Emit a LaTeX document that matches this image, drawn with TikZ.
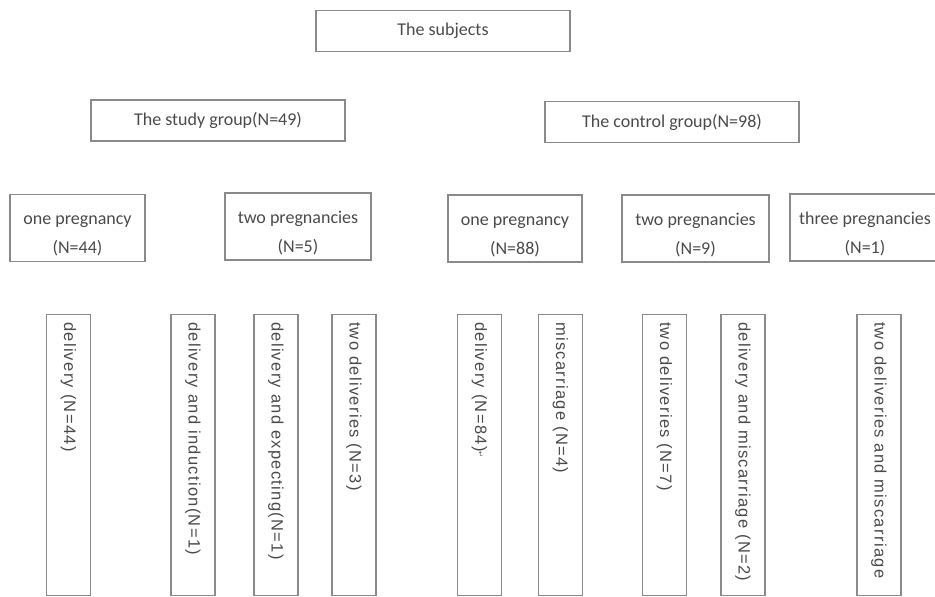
\documentclass[tikz,border=0pt]{standalone}
\usepackage{fontspec}
\setmainfont{Carlito}
\newfontfamily\armfont[LetterSpace=8]{Liberation Sans}
\newfontfamily\symfont{DejaVu Sans}

\definecolor{boxgray}{HTML}{8A8A8A}
\definecolor{txtgray}{HTML}{4A4A4A}

\newcommand{\lowstrut}{\rule{0pt}{25pt}}

\tikzset{
	grpbox/.style={draw=boxgray, line width=1.3pt, minimum width=254pt, minimum height=41pt, inner sep=0pt, text=txtgray, font=\fontsize{18}{20}\selectfont},
	pregbox/.style={draw=boxgray, line width=1.3pt, minimum height=67pt, inner sep=0pt, align=center, text=txtgray, font=\fontsize{18}{29}\selectfont},
	outbox/.style={draw=boxgray, line width=1.3pt, minimum width=44pt, minimum height=281pt, inner sep=0pt},
	outlabel/.style={rotate=-90, anchor=west, inner sep=0pt, text=txtgray, font=\armfont\fontsize{16.5}{18}\selectfont}
}

\begin{document}
\begin{tikzpicture}[x=1pt, y=-1pt]
	\useasboundingbox (0,0) rectangle (935,597);

	% Top level
	\node[grpbox] (subjects) at (443, 31) {The subjects};

	% The two groups
	\node[grpbox] (study) at (218, 120.5) {The study group(N=49)};
	\node[grpbox] (control) at (672, 122) {The control group(N=98)};

	% Number of pregnancies
	\node[pregbox, minimum width=135pt] (sone) at (77.5, 228) {\lowstrut one pregnancy\\(N=44)};
	\node[pregbox, minimum width=146pt] (stwo) at (298, 226.5) {\lowstrut two pregnancies\\(N=5)};
	\node[pregbox, minimum width=134pt] (cone) at (515, 228.5) {\lowstrut one pregnancy\\(N=88)};
	\node[pregbox, minimum width=147pt] (ctwo) at (695.5, 228.5) {\lowstrut two pregnancies\\(N=9)};
	\node[pregbox, minimum width=150pt] (cthree) at (865, 227.5) {\lowstrut three pregnancies\\(N=1)};

	% Outcomes, written downwards
	\node[outbox] (sdel) at (68.5, 455) {};
	\node[outlabel] at ([yshift=-8pt]sdel.north) {delivery (N=44)};
	\node[outbox] (sind) at (193, 455) {};
	\node[outlabel] at ([yshift=-8pt]sind.north) {delivery and induction(N=1)};
	\node[outbox] (sexp) at (276, 455) {};
	\node[outlabel] at ([yshift=-8pt]sexp.north) {delivery and expecting(N=1)};
	\node[outbox] (stwodel) at (354, 455) {};
	\node[outlabel] at ([yshift=-8pt]stwodel.north) {two deliveries (N=3)};

	\node[outbox] (cdel) at (479.5, 455) {};
	\node[outlabel] at ([yshift=-8pt]cdel.north) {delivery (N=84)\raisebox{3pt}{\symfont\fontsize{7}{8}\selectfont ↵}};
	\node[outbox] (cmis) at (560.5, 455) {};
	\node[outlabel] at ([yshift=-8pt]cmis.north) {miscarriage (N=4)};
	\node[outbox] (ctwodel) at (664.5, 455) {};
	\node[outlabel] at ([yshift=-8pt]ctwodel.north) {two deliveries (N=7)};
	\node[outbox] (cdelmis) at (743, 455) {};
	\node[outlabel] at ([yshift=-8pt]cdelmis.north) {delivery and miscarriage (N=2)};
	\node[outbox] (ctwomis) at (879, 455) {};
	\node[outlabel] at ([yshift=-8pt]ctwomis.north) {two deliveries and miscarriage};
\end{tikzpicture}
\end{document}
